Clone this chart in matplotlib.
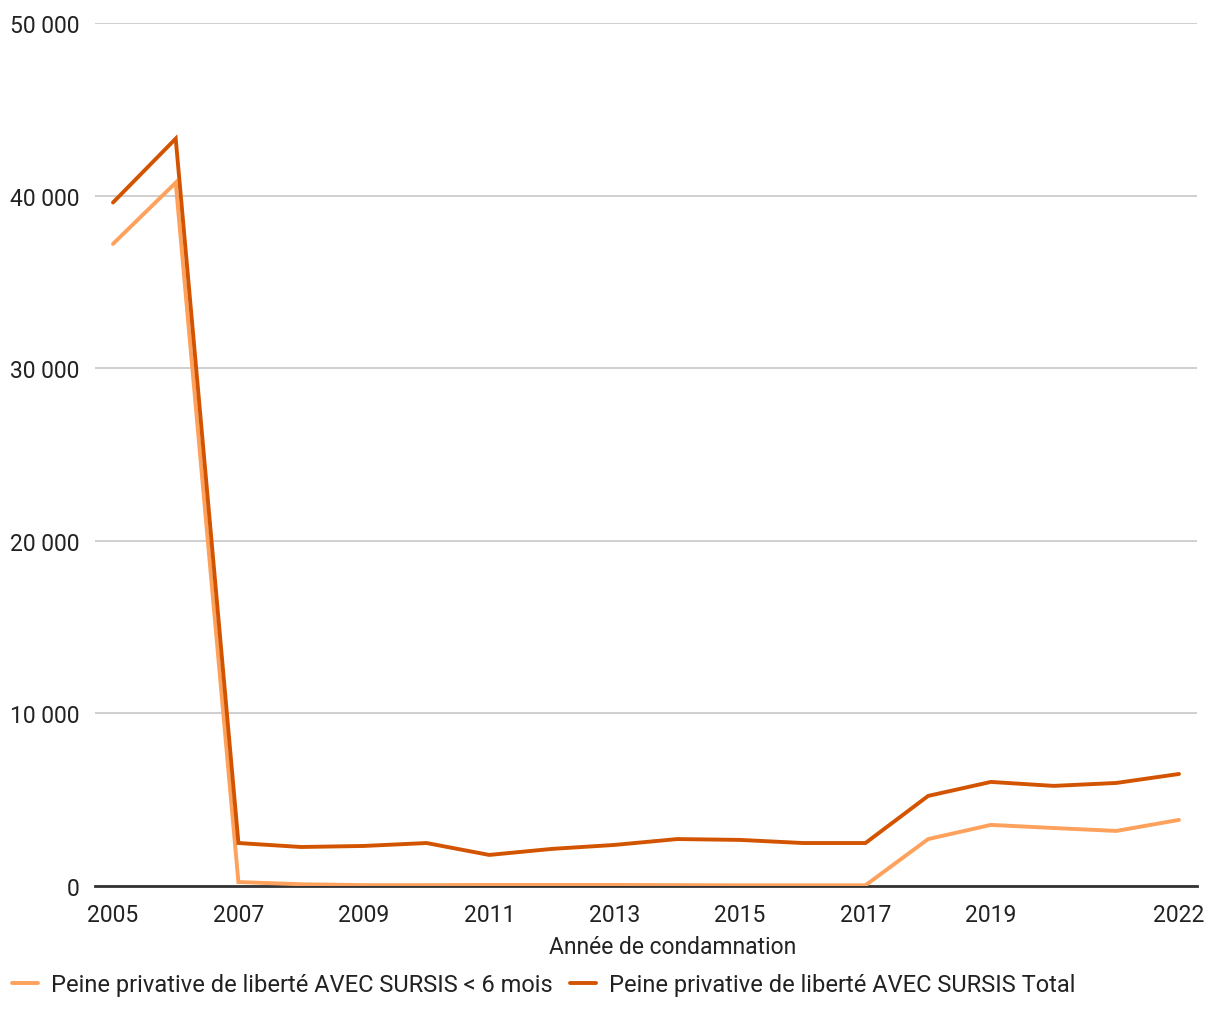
import matplotlib
matplotlib.use("Agg")
import matplotlib.pyplot as plt
from matplotlib.ticker import FuncFormatter

years = list(range(2005, 2023))
moins_6_mois = [37200, 40750, 230, 100, 50, 50, 60, 60, 60, 50, 40, 40, 40, 2720, 3540, 3360, 3190, 3830]
total = [39600, 43300, 2490, 2260, 2320, 2490, 1800, 2150, 2380, 2720, 2670, 2490, 2490, 5220, 6030, 5800, 5970, 6490]
xticks = [2005, 2007, 2009, 2011, 2013, 2015, 2017, 2019, 2022]
yticks = [0, 10000, 20000, 30000, 40000, 50000]
labels = ["Peine privative de liberté AVEC SURSIS < 6 mois",
          "Peine privative de liberté AVEC SURSIS Total"]

plt.rcParams['font.family'] = ['Roboto', 'DejaVu Sans']
plt.rcParams['font.weight'] = 'normal'

fig = plt.figure(figsize=(12.2, 10.2), dpi=100)
ax = fig.add_axes([95/1220, 133/1020, 1102/1220, 863/1020])

ax.plot(years, moins_6_mois, color='#FDA15C', lw=2.8, label=labels[0], solid_capstyle='round', solid_joinstyle='miter')
ax.plot(years, total, color='#D35400', lw=2.8, label=labels[1], solid_capstyle='round', solid_joinstyle='miter')

ax.set_xlim(2005 - 18/62.7, 2022 + 18/62.7)
ax.set_ylim(0, 50000)
ax.set_xticks(xticks)
ax.set_yticks(yticks)
ax.yaxis.set_major_formatter(FuncFormatter(lambda v, p: f"{int(v):,}".replace(",", " ")))
ax.grid(axis='y', color='#CCCCCC', lw=1.3)
ax.set_axisbelow(True)
for s in ['top', 'right', 'left']:
    ax.spines[s].set_visible(False)
ax.spines['bottom'].set_color('#333333')
ax.spines['bottom'].set_linewidth(2)
ax.spines['bottom'].set_zorder(1)
ax.tick_params(axis='both', length=0, labelsize=16.5, colors='#222222')
ax.tick_params(axis='x', pad=12)
ax.tick_params(axis='y', pad=11)
ax.set_xlabel("Année de condamnation", fontsize=16.5, color='#222222')
ax.xaxis.set_label_coords((673 - 95) / 1102, -(948 - 887) / 863, transform=ax.transAxes)
ax.xaxis.label.set_va('center')

leg = fig.legend(loc='center left', bbox_to_anchor=(0.0, 1 - 986/1020), ncol=2, frameon=False,
                 fontsize=17, handlelength=1.1, handletextpad=0.55, columnspacing=0.75,
                 labelcolor='#222222', borderaxespad=0, borderpad=0.5)
fig.savefig("out.png", dpi=100, facecolor='white')
